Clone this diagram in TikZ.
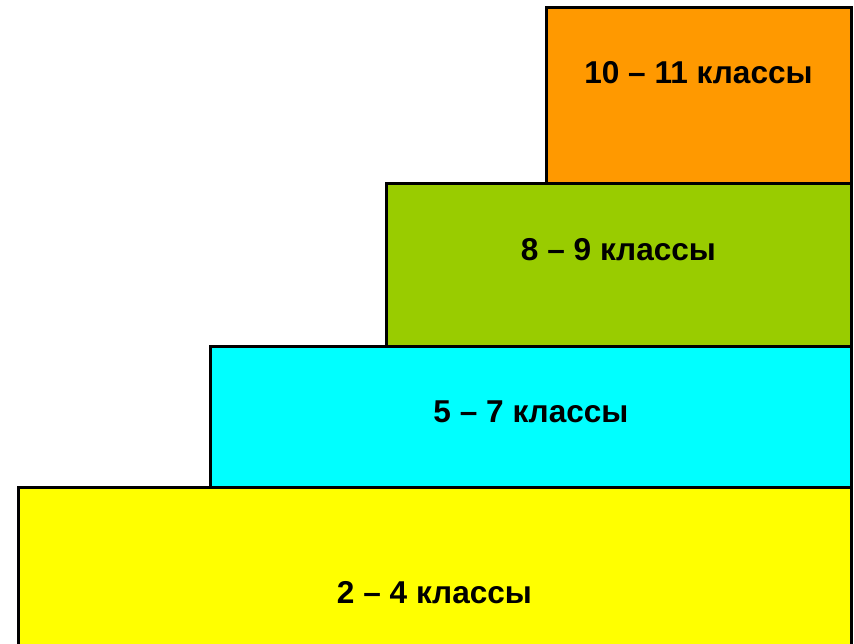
\documentclass[tikz,border=0pt]{standalone}
\usepackage{fontspec}
\setmainfont{Liberation Sans}
\definecolor{cOrange}{HTML}{FF9900}
\definecolor{cGreen}{HTML}{99CC00}
\definecolor{cCyan}{HTML}{00FFFF}
\definecolor{cYellow}{HTML}{FFFF00}
\tikzset{
  stepbox/.style={draw=black, line width=3pt},
  steplabel/.style={anchor=base, inner sep=0pt, font=\fontsize{31.6}{36}\selectfont\bfseries}
}
\begin{document}
\begin{tikzpicture}[x=1pt,y=-1pt]
\useasboundingbox (0,0) rectangle (854,643);
\begin{scope}
\clip (0,0) rectangle (854,643);
\filldraw[stepbox, fill=cYellow] (18,487) rectangle (851.5,660);
\filldraw[stepbox, fill=cCyan] (210,346) rectangle (851.5,487);
\filldraw[stepbox, fill=cGreen] (386,183) rectangle (851.5,346);
\filldraw[stepbox, fill=cOrange] (546,7) rectangle (851.5,183);
\end{scope}
\node[steplabel] (t1) at (698.5,83) {10 – 11 классы};
\node[steplabel] (t2) at (618.5,260) {8 – 9 классы};
\node[steplabel] (t3) at (531,422) {5 – 7 классы};
\node[steplabel] (t4) at (434.5,603) {2 – 4 классы};
\end{tikzpicture}
\end{document}
